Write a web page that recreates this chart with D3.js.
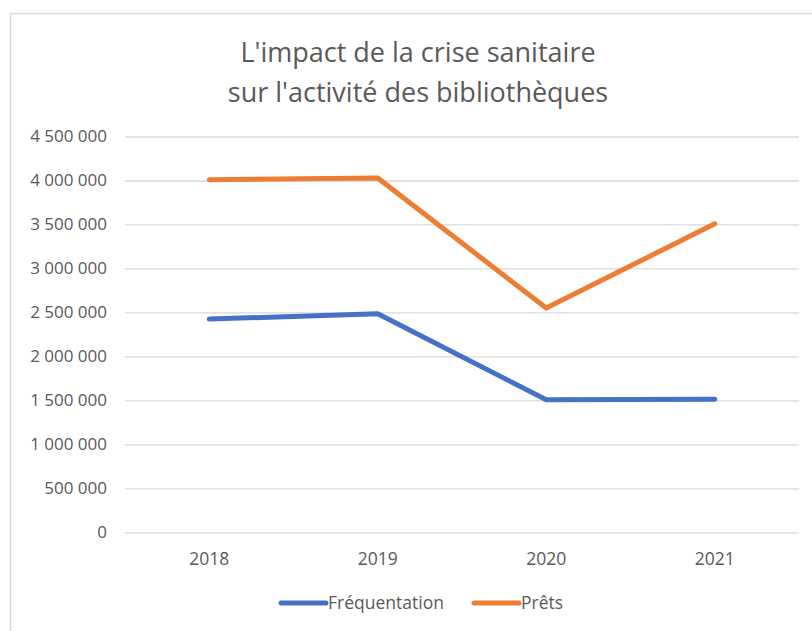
<!DOCTYPE html>
<html>
<head>
<meta charset="utf-8">
<script src="https://cdn.jsdelivr.net/npm/d3@7"></script>
<style>
	body { margin: 0; background: #fff; }
	text { font-family: "Open Sans", "Noto Sans", sans-serif; fill: #595959; }
</style>
</head>
<body>
<svg width="812" height="631"></svg>
<script>
// chart data
var years = ["2018", "2019", "2020", "2021"];
var frequentation = [2424000, 2485000, 1506000, 1514000];
var prets = [4009000, 4028000, 2549000, 3508000];
var yTicks = [0, 500000, 1000000, 1500000, 2000000, 2500000, 3000000, 3500000, 4000000, 4500000];
var seriesNames = ["Fréquentation", "Prêts"];
var seriesColors = ["#4472C4", "#ED7D31"];
var titleLines = ["L'impact de la crise sanitaire", "sur l'activité des bibliothèques"];

var svg = d3.select("svg"),
	margin = {left: 125, right: 13, top: 136.5, bottom: 99};
var width = +svg.attr("width"),
	height = +svg.attr("height");

// chart frame
svg.append("rect")
	.attr("x", 10.5).attr("y", 13.5)
	.attr("width", 820).attr("height", 640)
	.attr("fill", "#fff")
	.attr("stroke", "#d9d9d9")
	.attr("stroke-width", 1.5);

var fr = d3.formatLocale({decimal: ",", thousands: " ", grouping: [3], currency: ["", " €"]});
var fmt = fr.format(",d");

var x = d3.scaleBand()
	.domain(years)
	.range([margin.left, width - margin.right]);

var y = d3.scaleLinear()
	.domain([0, 4500000])
	.range([height - margin.bottom + 0.3, margin.top]);

// title
svg.append("text")
	.attr("text-anchor", "middle")
	.attr("font-size", 27)
	.selectAll("tspan")
	.data(titleLines)
	.enter()
	.append("tspan")
	.attr("x", 418)
	.attr("y", function (d, i) { return 62 + i * 40; })
	.text(function (d) { return d; });

// gridlines + y labels
var yAxis = svg.append("g")
	.attr("transform", "translate(" + margin.left + ",0)")
	.call(d3.axisLeft(y)
		.tickValues(yTicks)
		.tickSize(-(width - margin.right - margin.left))
		.tickPadding(18)
		.tickFormat(fmt));
yAxis.select(".domain").remove();
yAxis.selectAll(".tick line").attr("stroke", "#d9d9d9").attr("stroke-width", 1.3);
yAxis.selectAll(".tick text")
	.attr("font-size", 17)
	.attr("font-family", "'Open Sans', sans-serif")
	.attr("fill", "#595959");

// x labels
var xAxis = svg.append("g")
	.attr("transform", "translate(0," + y(0) + ")")
	.call(d3.axisBottom(x).tickSize(0).tickPadding(20));
xAxis.select(".domain").remove();
xAxis.selectAll(".tick text")
	.attr("font-size", 17.5)
	.attr("font-family", "'Open Sans', sans-serif")
	.attr("fill", "#595959");

// lines
var line = d3.line()
	.x(function (d, i) { return x(years[i]) + x.bandwidth() / 2; })
	.y(function (d) { return y(d); });

[frequentation, prets].forEach(function (vals, k) {
	svg.append("path")
		.datum(vals)
		.attr("d", line)
		.attr("fill", "none")
		.attr("stroke", seriesColors[k])
		.attr("stroke-width", 5)
		.attr("stroke-linecap", "round")
		.attr("stroke-linejoin", "round");
});

// legend
var legendX = [279, 472];
var legend = svg.selectAll(".legend")
	.data(seriesNames)
	.enter()
	.append("g")
	.attr("class", "legend")
	.attr("transform", function (d, i) { return "translate(" + legendX[i] + ",603)"; });

legend.append("line")
	.attr("x1", 2).attr("x2", 47)
	.attr("stroke", function (d, i) { return seriesColors[i]; })
	.attr("stroke-width", 5)
	.attr("stroke-linecap", "round");

legend.append("text")
	.attr("x", 49)
	.attr("dy", "0.35em")
	.attr("font-size", 17.5)
	.text(function (d) { return d; });
</script>
</body>
</html>
